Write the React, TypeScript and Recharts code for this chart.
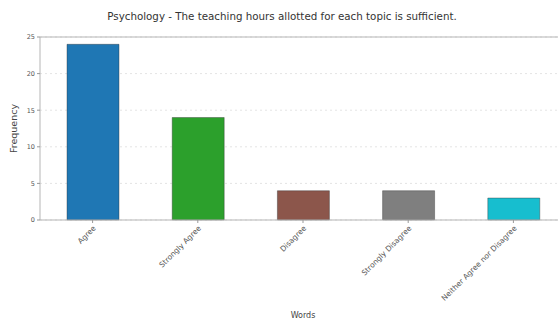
import React from "react";
import {
  BarChart,
  Bar,
  XAxis,
  YAxis,
  CartesianGrid,
  ReferenceLine,
  Cell,
} from "recharts";

const categories = [
  "Agree",
  "Strongly Agree",
  "Disagree",
  "Strongly Disagree",
  "Neither Agree nor Disagree",
];
const counts = [24, 14, 4, 4, 3];
const barColors = ["#1f77b4", "#2ca02c", "#8c564b", "#7f7f7f", "#17becf"];
const yTicks = [0, 5, 10, 15, 20, 25];

const data = categories.map((name, i) => ({ name, value: counts[i] }));

const font = "'DejaVu Sans', sans-serif";

const App = () => {
  return (
    <div
      style={{
        position: "absolute",
        left: 0,
        top: 0,
        width: 558,
        height: 320,
        overflow: "hidden",
        background: "#fff",
        fontFamily: font,
      }}
    >
      <div
        style={{
          position: "absolute",
          top: 10,
          left: 0,
          width: 564,
          textAlign: "center",
          fontSize: 10.3,
          color: "#333",
        }}
      >
        Psychology - The teaching hours allotted for each topic is sufficient.
      </div>
      <BarChart
        width={566}
        height={320}
        data={data}
        margin={{ top: 37, right: 0, left: 0, bottom: 0 }}
        style={{ position: "absolute", left: 0, top: 0 }}
      >
        {/* faint dashed gridlines */}
        <CartesianGrid
          strokeDasharray="2 3"
          vertical={false}
          stroke="#e4e4e4"
        />
        <ReferenceLine y={25} stroke="#b5b5b5" strokeWidth={1} />
        <XAxis
          dataKey="name"
          interval={0}
          angle={-45}
          textAnchor="end"
          height={100}
          stroke="#b5b5b5"
          tickLine={{ stroke: "#999" }}
          tickSize={3}
          tick={{ fill: "#555", fontSize: 7.5, fontFamily: font }}
          label={{
            value: "Words",
            position: "insideBottom",
            offset: 2,
            fill: "#444",
            fontSize: 8,
            fontFamily: font,
          }}
        />
        <YAxis
          domain={[0, 25]}
          ticks={yTicks}
          width={40}
          stroke="#b5b5b5"
          tickLine={{ stroke: "#999" }}
          tickSize={3}
          tick={{ fill: "#555", fontSize: 6.5, fontFamily: font }}
          label={{
            value: "Frequency",
            angle: -90,
            position: "insideLeft",
            offset: 14,
            fill: "#444",
            fontSize: 9.5,
            fontFamily: font,
            style: { textAnchor: "middle" },
          }}
        />
        <Bar
          dataKey="value"
          barSize={52}
          stroke="#333"
          strokeOpacity={0.5}
          strokeWidth={0.8}
          isAnimationActive={false}
        >
          {data.map((d, i) => (
            <Cell key={d.name} fill={barColors[i]} />
          ))}
        </Bar>
      </BarChart>
    </div>
  );
};

export default App;
